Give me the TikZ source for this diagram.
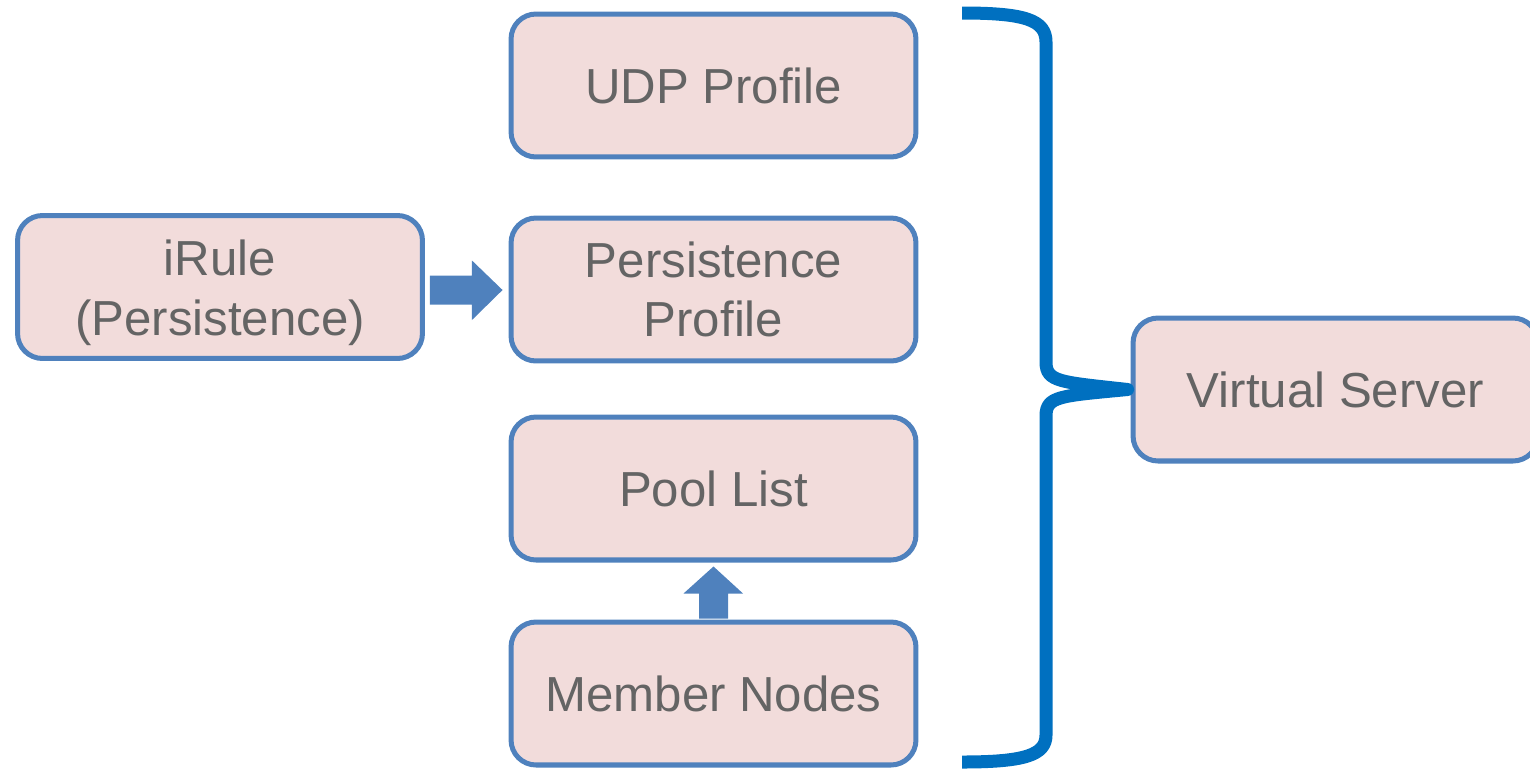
\documentclass[tikz,border=0pt]{standalone}
\usepackage{fontspec}
\setmainfont{Liberation Sans}
\usetikzlibrary{calc}
\definecolor{boxline}{RGB}{79,129,189}
\definecolor{boxfill}{RGB}{242,220,219}
\definecolor{bracecol}{RGB}{0,112,192}
\definecolor{txtgray}{RGB}{100,100,100}
\newcommand{\lowered}[1]{\raisebox{-0.12cm}[\height][\depth]{#1}}
\tikzset{
  block/.style={draw=boxline, fill=boxfill, line width=2.85pt, rounded corners=0.5cm,
    minimum width=8.1cm, minimum height=2.86cm, inner sep=0pt, align=center,
    text=txtgray, font=\fontsize{28}{34}\selectfont},
  blockarrow/.style={fill=boxline},
  brace/.style={draw=bracecol, line width=7.4pt, line join=round}
}
\begin{document}
\begin{tikzpicture}[x=0.02cm, y=-0.02cm]
\useasboundingbox (0,0) rectangle (1530,768);
% component blocks
\node[block] (udp)    at (713.5,85.5)  {UDP Profile};
\node[block] (irule)  at (220,287)     {\lowered{iRule}\\\lowered{(Persistence)}};
\node[block] (pers)   at (713.5,289.5) {Persistence\\Profile};
\node[block] (pool)   at (713.5,488.5) {Pool List};
\node[block] (member) at (713.5,693.5) {Member Nodes};
\node[block] (vs)     at (1335.5,389.5){Virtual Server};
% block arrow: iRule -> persistence profile
\coordinate (ra) at ($(irule.east)+(5,3)$);
\fill[blockarrow] ($(ra)+(0,-14.5)$) -- ++(42,0) -- ++(0,-15) -- ($(pers.west)+(-6,0.5)$)
  -- ($(ra)+(42,30)$) -- ++(0,-15.5) -- ($(ra)+(0,14.5)$) -- cycle;
% block arrow: member nodes -> pool list
\coordinate (ua) at ($(member.north)+(0,-1)$);
\fill[blockarrow] ($(ua)+(-14.5,0)$) -- ++(0,-25) -- ++(-15.5,0) -- ($(pool.south)+(0,4)$)
  -- ($(ua)+(29.5,-25)$) -- ++(-15,0) -- ($(ua)+(14.5,0)$) -- cycle;
% grouping brace
\coordinate (btop) at (962,13);
\coordinate (bbot) at (962,762);
\coordinate (btip) at ($(vs.west)+(-3,0)$);
\draw[brace] (btop) .. controls (1025,13) and (1046,20) .. (1046,42)
  -- (1046,362) .. controls (1046,382) and (1060,382) .. (btip)
  .. controls (1060,396) and (1046,396) .. (1046,416)
  -- (1046,735) .. controls (1046,755) and (1025,762) .. (bbot);
\end{tikzpicture}
\end{document}
